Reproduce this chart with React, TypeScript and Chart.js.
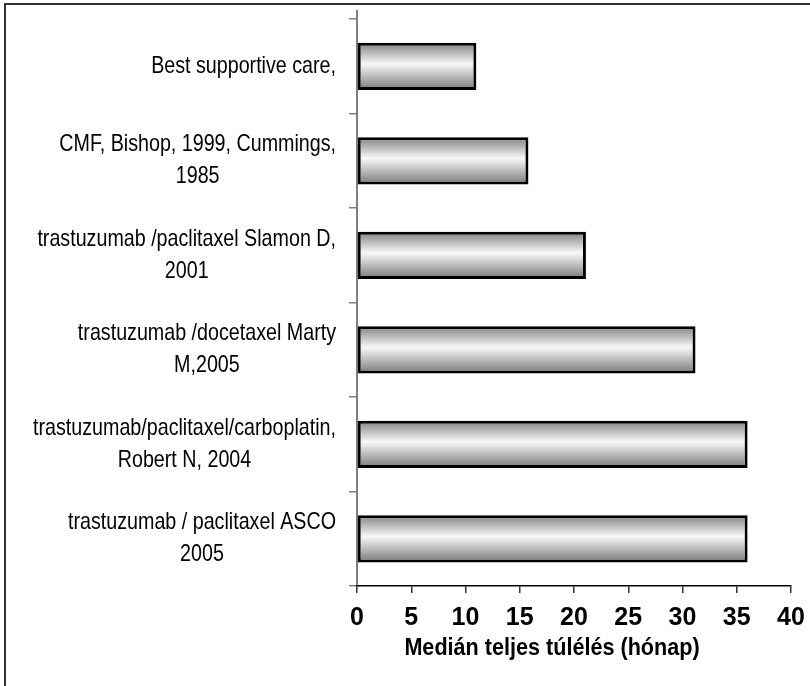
import React, { useEffect, useRef } from "react";
import { Chart, registerables } from "chart.js";

Chart.register(...registerables);

const categoryLines: string[][] = [
  ["Best supportive care,"],
  ["CMF, Bishop, 1999, Cummings,", "1985"],
  ["trastuzumab /paclitaxel Slamon D,", "2001"],
  ["trastuzumab /docetaxel Marty", "M,2005"],
  ["trastuzumab/paclitaxel/carboplatin,", "Robert N, 2004"],
  ["trastuzumab / paclitaxel ASCO", "2005"],
];
const survivalMonths = [11, 15.8, 21.1, 31.2, 36, 36];
const xTickMin = 0;
const xTickMax = 40;
const xTickStep = 5;
const xAxisTitle = "Medián teljes túlélés (hónap)";

const SANS = "'Liberation Sans', Arial, sans-serif";
const CONDENSE = 0.82;
const TITLE_CONDENSE = 0.9;

export default function App() {
  const ref = useRef<HTMLCanvasElement>(null);
  useEffect(() => {
    document.body.style.margin = "0";
    const canvas = ref.current!;
    const framePlugin = {
      id: "frame",
      beforeDraw(chart: any) {
        const c = chart.ctx;
        c.save();
        c.fillStyle = "#fff";
        c.fillRect(0, 0, chart.width, chart.height);
        c.strokeStyle = "#333";
        c.lineWidth = 2;
        c.strokeRect(5, 4, chart.width + 20, chart.height + 20);
        c.restore();
      },
      afterDraw(chart: any) {
        const c = chart.ctx;
        const ys = chart.scales.y;
        const area = chart.chartArea;
        c.save();
        c.strokeStyle = "#808080";
        c.lineWidth = 2;
        c.beginPath();
        c.moveTo(area.left, 10);
        c.lineTo(area.left, area.top);
        c.stroke();
        c.restore();

        // category labels: block right-aligned, lines centred (condensed face)
        c.save();
        c.font = `normal 400 24px ${SANS}`;
        c.fillStyle = "#000";
        c.textAlign = "center";
        c.textBaseline = "middle";
        const lineH = 32;
        const rightEdge = area.left - 21;
        categoryLines.forEach((lines, i) => {
          const yc = ys.getPixelForValue(i);
          const w = Math.max(...lines.map((l) => c.measureText(l).width)) * CONDENSE;
          const xc = rightEdge - w / 2;
          lines.forEach((l, j) => {
            c.save();
            c.translate(xc, yc + (j - (lines.length - 1) / 2) * lineH);
            c.scale(CONDENSE, 1);
            c.fillText(l, 0, 0);
            c.restore();
          });
        });
        c.restore();

        // axis title (condensed bold)
        c.save();
        c.font = `normal 700 24px ${SANS}`;
        c.fillStyle = "#000";
        c.textAlign = "center";
        c.textBaseline = "middle";
        c.translate(552, 648);
        c.scale(TITLE_CONDENSE, 1);
        c.fillText(xAxisTitle, 0, 0);
        c.restore();
      },
    };

    const chart = new Chart(canvas, {
      type: "bar",
      data: {
        labels: categoryLines.map((l) => l.join(" ")),
        datasets: [
          {
            data: survivalMonths,
            backgroundColor: (ctx: any) => {
              const ch = ctx.chart;
              const ys = ch.scales.y;
              if (!ch.chartArea || !ys) return "#c0c0c0";
              const yc = ys.getPixelForValue(ctx.dataIndex);
              const h = (ys.height / categoryLines.length) * 0.5;
              const g = ch.ctx.createLinearGradient(0, yc - h / 2, 0, yc + h / 2);
              g.addColorStop(0, "#808080");
              g.addColorStop(0.45, "#f8f8f8");
              g.addColorStop(1, "#787878");
              return g;
            },
            borderColor: "#000",
            borderWidth: 3,
            borderSkipped: false,
            barPercentage: 0.5,
            categoryPercentage: 1,
          },
        ],
      },
      options: {
        indexAxis: "y",
        responsive: false,
        animation: false,
        layout: { padding: { left: 0, right: 19, top: 19, bottom: 0 } },
        plugins: { legend: { display: false }, tooltip: { enabled: false } },
        scales: {
          y: {
            ticks: { display: false },
            grid: { offset: true, drawOnChartArea: false, tickLength: 8, color: "#808080", lineWidth: 1.5 },
            border: { color: "#808080", width: 2 },
            afterFit: (s: any) => {
              s.width = 357;
            },
          },
          x: {
            min: xTickMin,
            max: xTickMax,
            ticks: {
              stepSize: xTickStep,
              color: "#000",
              padding: 10,
              font: { family: SANS, size: 25, weight: "bold" },
            },
            grid: { drawOnChartArea: false, tickLength: 7, color: "#333", lineWidth: 1.5 },
            border: { color: "#000", width: 1.5 },
            title: { display: false, text: xAxisTitle },
            afterFit: (s: any) => {
              s.height = 100;
              s.paddingLeft = 0;
              s.paddingRight = 0;
            },
          },
        },
      },
      plugins: [framePlugin],
    } as any);
    return () => chart.destroy();
  }, []);
  return (
    <div style={{ width: 810, height: 686 }}>
      <canvas ref={ref} width={810} height={686} style={{ display: "block" }} />
    </div>
  );
}
